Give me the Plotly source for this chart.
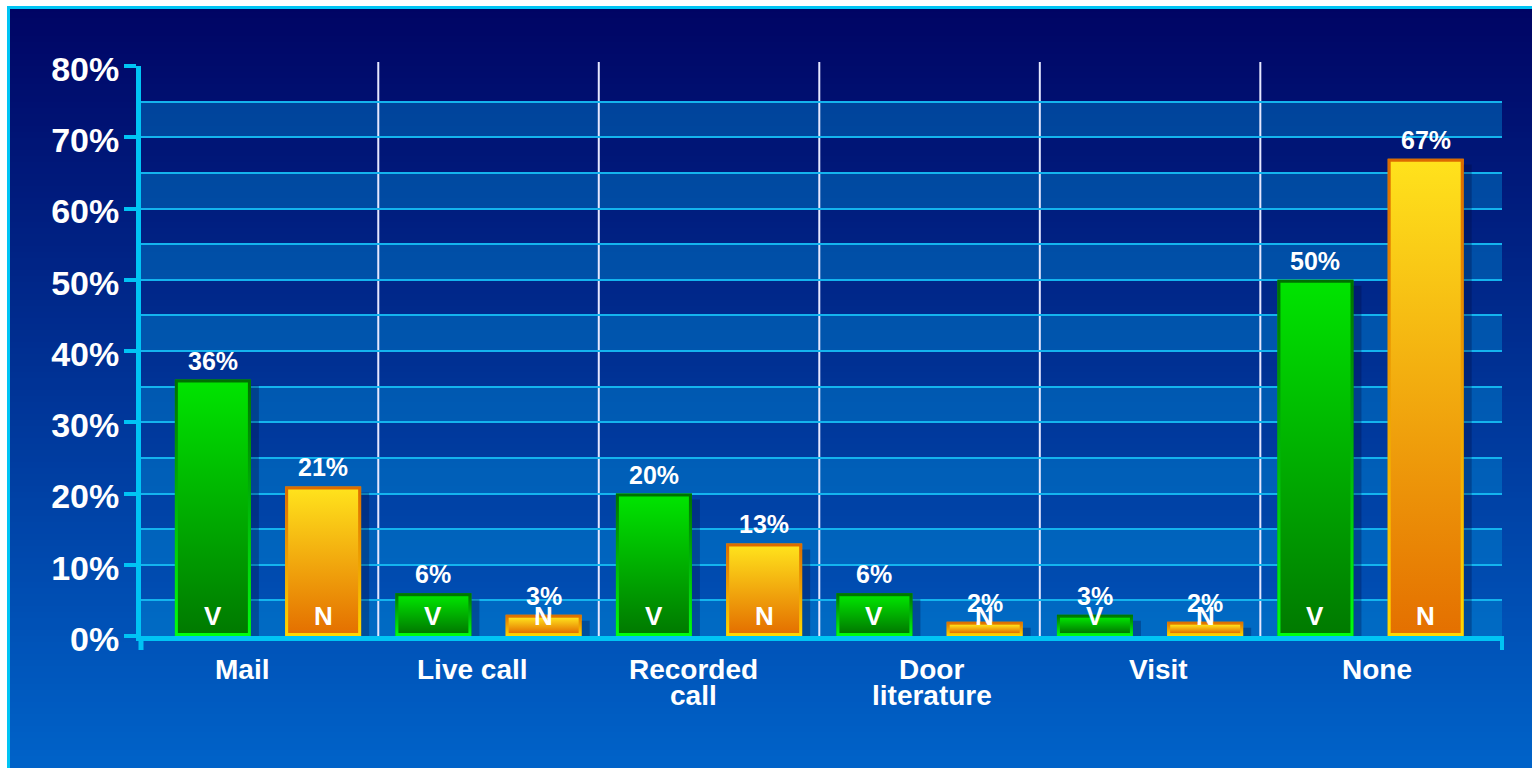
import plotly.graph_objects as go

# ---------------- data ----------------
categories = ["Mail", "Live call", "Recorded<br>call", "Door<br>literature", "Visit", "None"]
v_values = [36, 6, 20, 6, 3, 50]
n_values = [21, 3, 13, 2, 2, 67]
series_names = ["V", "N"]
y_tick_vals = [0, 10, 20, 30, 40, 50, 60, 70, 80]
y_tick_text = ["0%", "10%", "20%", "30%", "40%", "50%", "60%", "70%", "80%"]

# ---------------- geometry / style ----------------
W, H = 1532, 768
ML, MR, MT, MB = 141, 30, 66, 132
PW, PH = W - ML - MR, H - MT - MB
XR = [-0.576, 5.596]
YR = [0, 80]
PX_PER_X = PW / (XR[1] - XR[0])
PX_PER_Y = PH / (YR[1] - YR[0])
BAR_W = 76 / PX_PER_X
OFFS = [-0.25, 0.25]
BORDER_X = 3 / PX_PER_X
BORDER_Y = 3 / PX_PER_Y
LABEL_NUDGE = [-26, -16, -16, 2, 8, 6]   # horizontal nudges of category labels (px)

FONT = "Liberation Sans, Arial, sans-serif"
CYAN = "#00c4f4"
GRID = "#14b4ee"

fill_scales = {
    "V": [[0, "#007a00"], [1, "#00e400"]],
    "N": [[0, "#e47000"], [1, "#ffe21c"]],
}
border_scales = {
    "V": [[0, "#00ff10"], [1, "#007000"]],
    "N": [[0, "#ffd800"], [1, "#dc6a00"]],
}
bar_solid = {"V": "#00b000", "N": "#f0a000"}


def px_to_paper_x(px):
    return (px - ML) / PW


def px_to_paper_y(py):
    return (MT + PH - py) / PH


fig = go.Figure()

series_vals = [v_values, n_values]

# soft drop shadows
for s, (name, vals) in enumerate(zip(series_names, series_vals)):
    for i, v in enumerate(vals):
        xc = i + OFFS[s]
        x0, x1 = xc - BAR_W / 2, xc + BAR_W / 2
        sdx = 8 / PX_PER_X
        sdy = 6 / PX_PER_Y
        fig.add_trace(go.Scatter(
            x=[x0 + sdx, x1 + sdx, x1 + sdx, x0 + sdx, x0 + sdx],
            y=[0, 0, max(v - sdy, 0), max(v - sdy, 0), 0],
            mode="lines", line=dict(width=0), fill="toself",
            fillcolor="rgba(0,10,60,0.30)", hoverinfo="skip", showlegend=False))

# the bars themselves
for s, (name, vals) in enumerate(zip(series_names, series_vals)):
    fig.add_trace(go.Bar(
        x=list(range(len(categories))), y=vals, name=name,
        width=BAR_W, offset=OFFS[s] - BAR_W / 2,
        marker=dict(color=bar_solid[name], line=dict(width=0)),
        showlegend=False))

# gradient skins (border + fill) drawn on the bars
for s, (name, vals) in enumerate(zip(series_names, series_vals)):
    for i, v in enumerate(vals):
        xc = i + OFFS[s]
        x0, x1 = xc - BAR_W / 2, xc + BAR_W / 2
        fig.add_trace(go.Scatter(
            x=[x0, x1, x1, x0, x0], y=[0, 0, v, v, 0],
            mode="lines", line=dict(width=0), fill="toself",
            fillgradient=dict(type="vertical", colorscale=border_scales[name]),
            hoverinfo="skip", showlegend=False))
        fig.add_trace(go.Scatter(
            x=[x0 + BORDER_X, x1 - BORDER_X, x1 - BORDER_X, x0 + BORDER_X, x0 + BORDER_X],
            y=[BORDER_Y, BORDER_Y, v - BORDER_Y, v - BORDER_Y, BORDER_Y],
            mode="lines", line=dict(width=0), fill="toself",
            fillgradient=dict(type="vertical", colorscale=fill_scales[name]),
            hoverinfo="skip", showlegend=False))

shapes = []
# page background gradient strips
top_c = (0, 4, 100)
bot_c = (0, 98, 200)
step = 6
for py in range(0, H, step):
    t = min(max((py + step / 2 - 8) / (H - 16), 0), 1)
    c = tuple(round(top_c[k] + (bot_c[k] - top_c[k]) * t) for k in range(3))
    shapes.append(dict(type="rect", xref="paper", yref="paper", layer="below",
                       x0=px_to_paper_x(0), x1=px_to_paper_x(W),
                       y0=px_to_paper_y(py + step + 0.5), y1=px_to_paper_y(py),
                       fillcolor=f"rgb{c}", line=dict(width=0)))
# white frame top/left + cyan edge
shapes.append(dict(type="rect", xref="paper", yref="paper", layer="above",
                   x0=px_to_paper_x(0), x1=px_to_paper_x(7),
                   y0=px_to_paper_y(H), y1=px_to_paper_y(0),
                   fillcolor="white", line=dict(width=0)))
shapes.append(dict(type="rect", xref="paper", yref="paper", layer="above",
                   x0=px_to_paper_x(0), x1=px_to_paper_x(W),
                   y0=px_to_paper_y(6), y1=px_to_paper_y(0),
                   fillcolor="white", line=dict(width=0)))
shapes.append(dict(type="rect", xref="paper", yref="paper", layer="above",
                   x0=px_to_paper_x(7), x1=px_to_paper_x(10),
                   y0=px_to_paper_y(H), y1=px_to_paper_y(6),
                   fillcolor=CYAN, line=dict(width=0)))
shapes.append(dict(type="rect", xref="paper", yref="paper", layer="above",
                   x0=px_to_paper_x(7), x1=px_to_paper_x(W),
                   y0=px_to_paper_y(9), y1=px_to_paper_y(6),
                   fillcolor=CYAN, line=dict(width=0)))
# lighter bands inside plot
for k in range(0, 80, 10):
    shapes.append(dict(type="rect", xref="paper", yref="y", layer="below",
                       x0=0, x1=1, y0=k, y1=k + 5,
                       fillcolor="rgba(0,140,215,0.42)", line=dict(width=0)))
# category separators
for i in range(len(categories) - 1):
    shapes.append(dict(type="line", xref="x", yref="paper", layer="between",
                       x0=i + 0.5, x1=i + 0.5, y0=0, y1=px_to_paper_y(MT - 4),
                       line=dict(color="#e6e8ff", width=2)))
# axis extensions below zero
shapes.append(dict(type="line", xref="paper", yref="paper", layer="above",
                   x0=0, x1=0, y0=0, y1=px_to_paper_y(650),
                   line=dict(color=CYAN, width=5)))
shapes.append(dict(type="line", xref="paper", yref="paper", layer="above",
                   x0=1, x1=1, y0=0, y1=px_to_paper_y(650),
                   line=dict(color=CYAN, width=4)))

annotations = []
# value labels above bars
for s, (name, vals) in enumerate(zip(series_names, series_vals)):
    for i, v in enumerate(vals):
        annotations.append(dict(x=i + OFFS[s], y=v, xref="x", yref="y",
                                text=f"{v}%", showarrow=False, yanchor="bottom",
                                yshift=3,
                                font=dict(family=FONT, size=25, color="white", weight="bold")))
# series letters inside bars
for s, (name, vals) in enumerate(zip(series_names, series_vals)):
    for i, v in enumerate(vals):
        annotations.append(dict(x=i + OFFS[s], y=0, xref="x", yref="y",
                                text=name, showarrow=False, yanchor="bottom",
                                yshift=3,
                                font=dict(family=FONT, size=26, color="white", weight="bold")))
# category labels
for i, cat in enumerate(categories):
    for j, line in enumerate(cat.split("<br>")):
        annotations.append(dict(x=i, y=0, xref="x", yref="paper", text=line,
                                showarrow=False, yanchor="top", yshift=-16 - 26 * j,
                                xshift=LABEL_NUDGE[i],
                                font=dict(family=FONT, size=28, color="white", weight="bold")))

fig.update_layout(
    width=W, height=H,
    margin=dict(l=ML, r=MR, t=MT, b=MB, pad=0),
    paper_bgcolor="#0030a0", plot_bgcolor="rgba(0,0,0,0)",
    barmode="overlay", showlegend=False,
    shapes=shapes, annotations=annotations,
    xaxis=dict(range=XR, showgrid=False, zeroline=False, showticklabels=False,
               showline=True, linecolor=CYAN, linewidth=5, ticks="", fixedrange=True),
    yaxis=dict(range=YR, tickvals=y_tick_vals, ticktext=y_tick_text,
               showgrid=True, gridcolor=GRID, gridwidth=2, zeroline=False,
               showline=True, linecolor=CYAN, linewidth=5,
               ticks="outside", ticklen=12, tickwidth=4, tickcolor=CYAN,
               ticklabelstandoff=-2, ticklabelshift=3,
               tickfont=dict(family=FONT, size=34, color="white", weight="bold"),
               minor=dict(dtick=5, showgrid=True, gridcolor=GRID, gridwidth=2, ticks=""),
               fixedrange=True),
)

fig.write_html("out.html", config={"displayModeBar": False},
               post_script="document.body.style.margin='0';document.body.style.overflow='hidden';")
